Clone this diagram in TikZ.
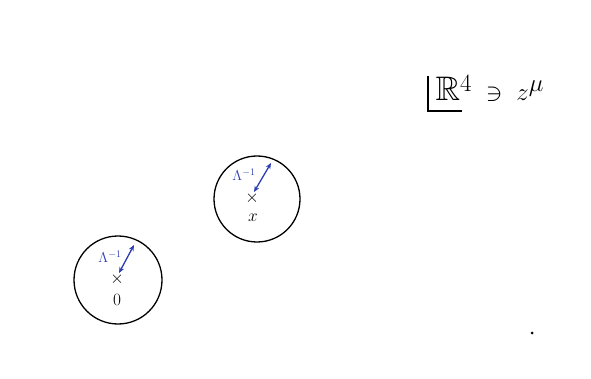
\documentclass[tikz,border=0pt]{standalone}
\usepackage{amssymb}
\usetikzlibrary{arrows.meta}
\definecolor{penblue}{HTML}{2B3DB3}
\begin{document}
\begin{tikzpicture}[x=1pt,y=-1pt,line width=1.3pt,every node/.style={inner sep=1pt}]
\path[use as bounding box] (0,0) rectangle (591,379);
\coordinate (C1) at (257,199);
\coordinate (C2) at (118,280);
\coordinate (P1) at (252,198);
\coordinate (P2) at (117,279);
\coordinate (A1) at (271,163);
\coordinate (A2) at (134,245);
\coordinate (Lt) at (428,76);
\coordinate (Lc) at (428,111);
\coordinate (Lr) at (462,111);
\draw (C1) circle[radius=43];
\draw (C2) circle[radius=44];
\node (X1) at (P1) {\LARGE$\times$};
\node (X2) at (P2) {\LARGE$\times$};
\node (x1) at (253,218) {\LARGE$x$};
\node (o2) at (117,300) {\LARGE$0$};
\draw[penblue,{Stealth[length=6pt,width=5pt]}-{Stealth[length=6pt,width=5pt]}] ([shift={(2,-6)}]P1) -- (A1);
\draw[penblue,{Stealth[length=6pt,width=5pt]}-{Stealth[length=6pt,width=5pt]}] ([shift={(2,-6)}]P2) -- (A2);
\node[penblue] (L1) at (244,175) {\Large$\Lambda^{-1}$};
\node[penblue] (L2) at (110,257) {\Large$\Lambda^{-1}$};
\draw (Lt) -- (Lc) -- (Lr);
\node[anchor=west] (R4) at (434,88) {\fontsize{34}{38}\selectfont$\mathbb{R}^4\;\ni\;z^\mu$};
\fill (532,333) circle[radius=1.5];
\end{tikzpicture}
\end{document}
